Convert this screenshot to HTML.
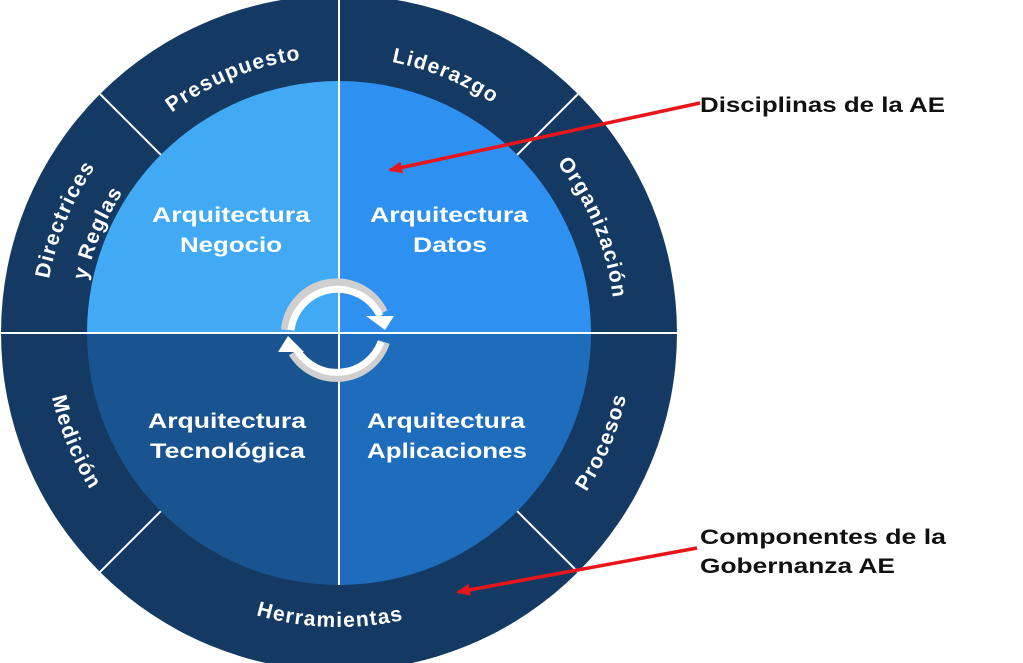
<!DOCTYPE html>
<html><head><meta charset="utf-8"><style>
html,body{margin:0;padding:0;background:#fff;width:1023px;height:663px;overflow:hidden}
svg{display:block}
.r{font-family:"Liberation Sans",sans-serif;font-weight:bold;font-size:21px;fill:#fff;letter-spacing:1.3px}
.q{font-family:"Liberation Sans",sans-serif;font-weight:bold;font-size:21px;fill:#fff}
.l{font-family:"Liberation Sans",sans-serif;font-weight:bold;font-size:21px;fill:#111}
</style></head><body>
<svg width="1023" height="663" viewBox="0 0 1023 663">
<defs>
<path id="p1" d="M143.5,137.5 A276,276 0 0 1 339,57"/>
<path id="p2" d="M339,57 A276,276 0 0 1 534.5,137.5"/>
<path id="p3" d="M534.5,137.5 A276,276 0 0 1 615,333"/>
<path id="p4" d="M44,333 A295,295 0 0 1 130.4,124.4"/>
<path id="p5" d="M81,333 A258,258 0 0 1 156.6,150.6"/>
<path id="p6" d="M546.9,540.9 A294,294 0 0 0 633,333"/>
<path id="p7" d="M131.1,540.9 A294,294 0 0 0 546.9,540.9"/>
<path id="p8" d="M45,333 A294,294 0 0 0 131.1,540.9"/>
<marker id="ah" markerWidth="14" markerHeight="12" refX="12" refY="6" orient="auto" markerUnits="userSpaceOnUse"><path d="M0,0 L14,6 L0,12 z" fill="#e8161b"/></marker>
</defs>
<circle cx="339" cy="333" r="338" fill="#143a63"/>
<path d="M339,333 L87,333 A252,252 0 0 1 339,81 Z" fill="#42aaf5"/>
<path d="M339,333 L339,81 A252,252 0 0 1 591,333 Z" fill="#2e90f0"/>
<path d="M339,333 L591,333 A252,252 0 0 1 339,585 Z" fill="#1e6dbd"/>
<path d="M339,333 L339,585 A252,252 0 0 1 87,333 Z" fill="#1a5490"/>
<g stroke="#fff" stroke-width="2">
<line x1="0" y1="333" x2="677" y2="333"/>
<line x1="339" y1="-5" x2="339" y2="585"/>
<line x1="160.8" y1="154.8" x2="100" y2="94"/>
<line x1="517.2" y1="154.8" x2="578" y2="94"/>
<line x1="517.2" y1="511.2" x2="578" y2="572"/>
<line x1="160.8" y1="511.2" x2="100" y2="572"/>
</g>
<text class="r"><textPath href="#p1" startOffset="50%" text-anchor="middle">Presupuesto</textPath></text>
<text class="r"><textPath href="#p2" startOffset="50%" text-anchor="middle">Liderazgo</textPath></text>
<text class="r"><textPath href="#p3" startOffset="50%" text-anchor="middle">Organización</textPath></text>
<text class="r"><textPath href="#p4" startOffset="50%" text-anchor="middle">Directrices</textPath></text>
<text class="r"><textPath href="#p5" startOffset="50%" text-anchor="middle">y  Reglas</textPath></text>
<text class="r"><textPath href="#p6" startOffset="50%" text-anchor="middle">Procesos</textPath></text>
<text class="r"><textPath href="#p7" startOffset="48%" text-anchor="middle">Herramientas</textPath></text>
<text class="r"><textPath href="#p8" startOffset="50%" text-anchor="middle">Medición</textPath></text>
<g class="q">
<text x="152" y="222" textLength="158" lengthAdjust="spacingAndGlyphs">Arquitectura</text>
<text x="180" y="252" textLength="102" lengthAdjust="spacingAndGlyphs">Negocio</text>
<text x="370" y="222" textLength="158" lengthAdjust="spacingAndGlyphs">Arquitectura</text>
<text x="413" y="252" textLength="74" lengthAdjust="spacingAndGlyphs">Datos</text>
<text x="148" y="428" textLength="158" lengthAdjust="spacingAndGlyphs">Arquitectura</text>
<text x="150" y="458" textLength="155" lengthAdjust="spacingAndGlyphs">Tecnológica</text>
<text x="367" y="428" textLength="158" lengthAdjust="spacingAndGlyphs">Arquitectura</text>
<text x="367" y="458" textLength="160" lengthAdjust="spacingAndGlyphs">Aplicaciones</text>
</g>
<g fill="none" stroke-linecap="butt">
<path d="M287,330 A50,50 0 0 1 382,313" stroke="#cfcfcf" stroke-width="12"/>
<path d="M291,330 A47,47 0 0 1 380,316" stroke="#fff" stroke-width="7"/>
<path d="M384,342 A50,50 0 0 1 294,352" stroke="#cfcfcf" stroke-width="12"/>
<path d="M381,342 A47,47 0 0 1 297,350" stroke="#fff" stroke-width="7"/>
</g>
<polygon points="366,316 394,316 385,330" fill="#fff"/>
<polygon points="278,352 304,352 288,336" fill="#fff"/>
<line x1="700" y1="103" x2="390" y2="170" stroke="#e8161b" stroke-width="3.5" marker-end="url(#ah)"/>
<line x1="697" y1="548" x2="458" y2="592" stroke="#e8161b" stroke-width="3.5" marker-end="url(#ah)"/>
<text class="l" x="700" y="112" textLength="245" lengthAdjust="spacingAndGlyphs">Disciplinas de la AE</text>
<text class="l" x="700" y="544" textLength="246" lengthAdjust="spacingAndGlyphs">Componentes de la</text>
<text class="l" x="700" y="573" textLength="195" lengthAdjust="spacingAndGlyphs">Gobernanza AE</text>
</svg>
</body></html>
